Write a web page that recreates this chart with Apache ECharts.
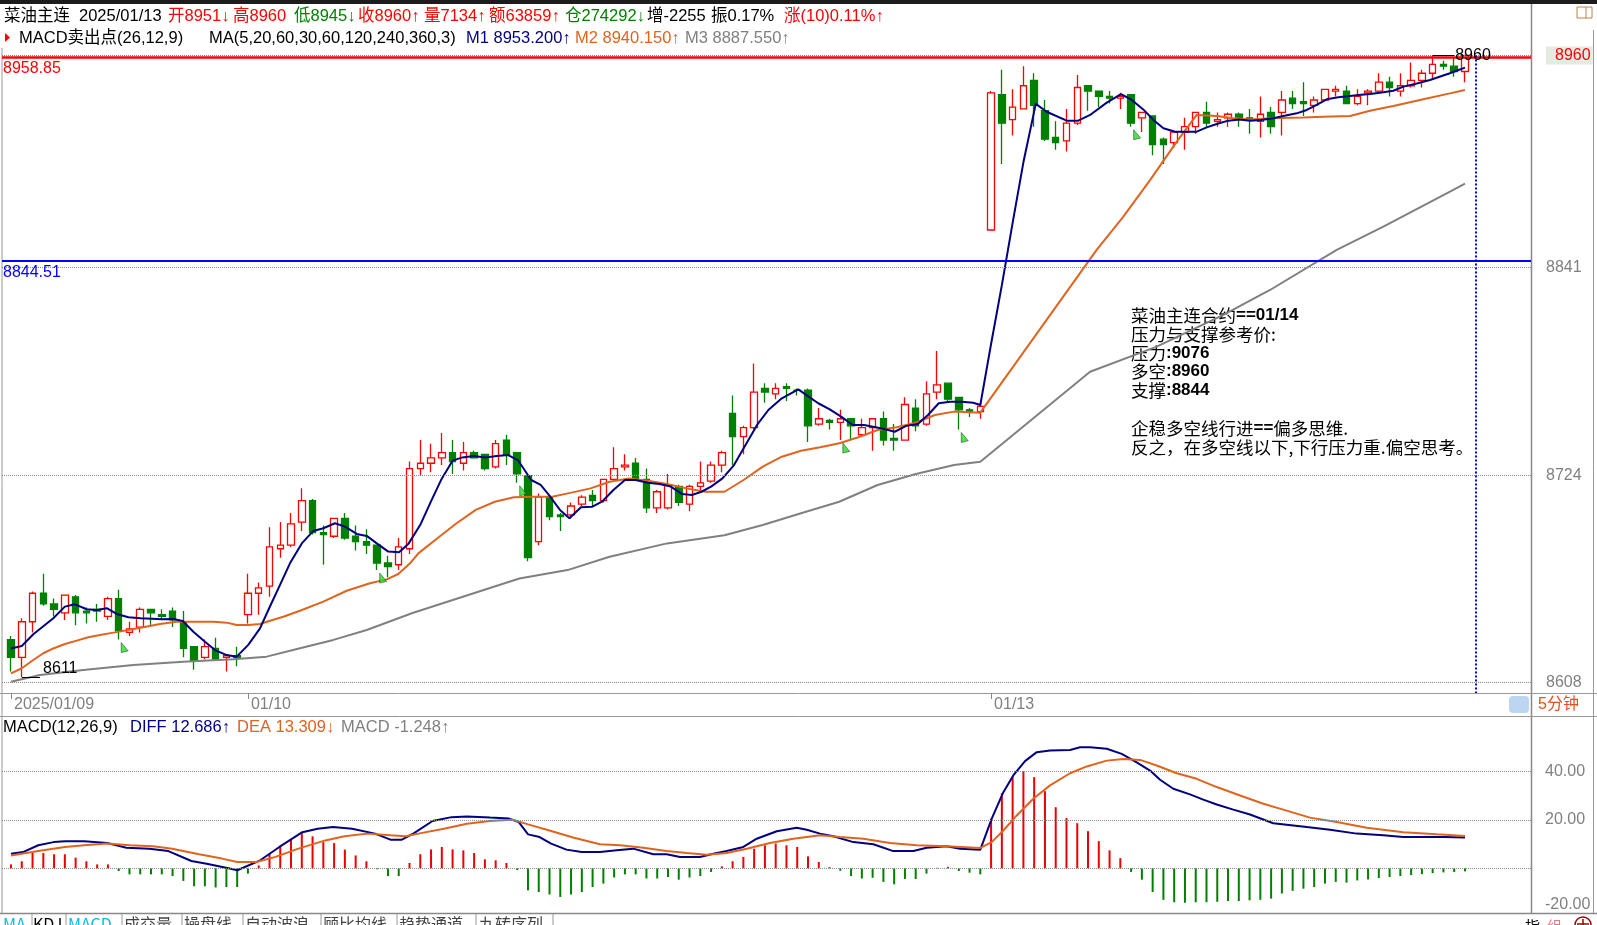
<!DOCTYPE html>
<html><head><meta charset="utf-8">
<script src="https://cdn.jsdelivr.net/npm/echarts@6/dist/echarts.min.js"></script>
<style>html,body{margin:0;padding:0;background:#fff}#c{width:1597px;height:925px}</style>
</head><body><div id="c"></div>
<script>
// ---- data: [open, close, low, high] per 5-minute bar ----
const candles = [
[8632,8622,8614,8634],[8622,8642,8611,8644],[8642,8658,8636,8659],[8658,8652,8651,8669],[8652,8649,8645,8655],
[8647,8657,8643,8657],[8656,8647,8640,8657],[8648,8647,8641,8650],[8649,8648,8642,8652],[8645,8655,8643,8656],
[8655,8637,8632,8660],[8636,8638,8634,8642],[8639,8649,8636,8650],[8649,8647,8640,8649],[8646,8645,8643,8649],
[8648,8643,8639,8650],[8642,8627,8622,8648],[8628,8620,8615,8628],[8622,8628,8621,8632],[8627,8621,8620,8633],
[8622,8623,8614,8623],[8623,8622,8617,8628],[8646,8658,8641,8669],[8658,8661,8646,8664],[8662,8684,8656,8695],
[8683,8685,8678,8698],[8685,8697,8684,8703],[8698,8710,8693,8717],[8710,8692,8691,8711],[8692,8691,8674,8696],
[8690,8700,8689,8700],[8700,8689,8688,8703],[8690,8687,8682,8696],[8687,8685,8680,8694],[8685,8675,8671,8685],
[8675,8673,8667,8679],[8674,8684,8671,8689],[8683,8728,8680,8732],[8728,8731,8724,8744],[8731,8734,8726,8742],
[8734,8737,8730,8748],[8737,8732,8725,8744],[8731,8737,8727,8743],[8737,8734,8734,8738],[8736,8728,8727,8736],
[8729,8742,8728,8744],[8744,8736,8730,8747],[8737,8725,8720,8737],[8724,8678,8676,8724],[8687,8712,8685,8714],
[8712,8701,8699,8712],[8702,8701,8693,8703],[8702,8707,8700,8709],[8708,8712,8707,8713],[8713,8710,8707,8716],
[8710,8722,8709,8722],[8722,8728,8722,8740],[8729,8730,8727,8736],[8731,8722,8721,8734],[8722,8706,8703,8728],
[8706,8715,8703,8716],[8706,8719,8705,8725],[8718,8709,8707,8719],[8708,8718,8704,8719],[8718,8720,8716,8732],
[8721,8730,8720,8732],[8730,8737,8726,8738],[8759,8746,8730,8769],[8746,8751,8736,8752],[8751,8771,8750,8787],
[8773,8771,8765,8776],[8770,8773,8767,8776],[8774,8773,8766,8776],[8772,8772,8769,8773],[8772,8752,8743,8773],
[8753,8756,8752,8762],[8755,8754,8750,8756],[8754,8756,8744,8761],[8756,8752,8744,8756],[8747,8751,8746,8756],
[8751,8756,8738,8756],[8756,8744,8741,8760],[8745,8744,8738,8753],[8744,8764,8744,8768],[8762,8752,8749,8767],
[8753,8770,8752,8777],[8771,8775,8767,8794],[8776,8767,8766,8776],[8768,8761,8750,8768],[8761,8760,8757,8762],
[8760,8763,8756,8765],[8862,8939,8862,8940],[8938,8922,8899,8952],[8924,8931,8915,8941],[8930,8943,8930,8954],
[8946,8932,8920,8950],[8929,8913,8912,8935],[8914,8911,8907,8923],[8912,8922,8906,8930],[8922,8942,8921,8949],
[8943,8940,8929,8943],[8940,8937,8931,8940],[8937,8936,8933,8940],[8936,8937,8930,8939],[8938,8922,8920,8938],
[8925,8928,8917,8928],[8926,8910,8904,8926],[8913,8910,8899,8914],[8911,8917,8908,8917],[8917,8920,8907,8925],
[8920,8928,8916,8928],[8928,8922,8920,8934],[8923,8924,8920,8928],[8925,8927,8920,8928],[8927,8925,8920,8928],
[8925,8924,8916,8930],[8923,8927,8914,8937],[8928,8920,8916,8931],[8928,8935,8915,8940],[8936,8933,8930,8940],
[8934,8933,8926,8945],[8932,8935,8928,8937],[8935,8941,8935,8941],[8940,8941,8937,8943],[8940,8933,8933,8943],
[8933,8937,8932,8941],[8939,8940,8932,8941],[8940,8945,8939,8950],[8945,8942,8937,8948],[8940,8943,8937,8950],
[8943,8946,8942,8956],[8946,8950,8942,8952],[8950,8955,8947,8960],[8955,8954,8952,8957],[8954,8951,8948,8959],
[8951,8960,8945,8960]
];

// moving averages: [bar index, value]
const ma5 = [[0,8627],[1,8628.4],[2.07,8635],[3.93,8644],[5,8650.5],[5.94,8651.8],[7.03,8649],[7.96,8648.6],[8.89,8649.6],[9.81,8646.4],
[10.9,8644.5],[12.05,8644],[13.06,8643.7],[14.05,8643.4],[15.07,8643.6],[15.94,8642.4],[16.93,8636.4],[18.01,8630.8],[18.94,8626.1],[20.03,8623.3],
[20.96,8622.4],[22.03,8629],[23.12,8638.3],[24,8650],[25,8663],[25.9,8674.8],[27,8686],[28.07,8693],[29,8694.5],[30.08,8697.3],
[31.01,8695.4],[32.1,8691.3],[33.03,8690.2],[33.96,8686],[35.03,8681.4],[36.03,8681],[36.93,8686],[37.99,8696.3],[39.06,8710.4],[39.94,8721.7],
[41.01,8732.5],[41.9,8734.3],[42.97,8735.1],[44.03,8734.3],[45.1,8735.1],[46.16,8735.6],[47.06,8732.8],[48.3,8721.6],[49.18,8718.8],[50.07,8712.2],
[50.97,8704.8],[51.85,8700.1],[52.92,8706.3],[53.98,8706.6],[54.87,8709.4],[55.93,8716],[57,8721.6],[57.99,8721.6],[59.14,8720.1],[60.2,8719.4],
[61.26,8717.9],[62.33,8713.7],[63.22,8713.2],[64.11,8715],[65,8717.9],[66.06,8722.5],[67.13,8730],[68.2,8741.3],[69.27,8752.5],[70.32,8760.9],
[71.57,8767.5],[73.1,8772.5],[74.06,8768.4],[74.95,8764.7],[76.02,8761.3],[77.08,8757.2],[78.14,8752.5],[79.21,8752.5],[80.28,8751.2],[81.17,8750.1],
[82.05,8748.7],[83.12,8752],[84.19,8753.1],[85.14,8758.1],[86.14,8764.7],[87.2,8765.6],[88.27,8765.6],[89.34,8765],[90,8763.7],
[91,8798],[92,8831],[93,8866],[94,8900],[95.15,8932.8],[96.16,8928.4],[98.02,8923.4],[99.1,8923.4],[100.19,8926.6],[101.74,8933.5],
[103.06,8938.3],[104.06,8935],[105.13,8929.7],[106.07,8923.8],[107,8919.1],[108.08,8917.2],[109.07,8917.2],[110.09,8917.2],[111.02,8919.6],[111.95,8921.5],
[113.03,8923.4],[114.05,8924.1],[115.04,8923.4],[116.06,8923.8],[117.2,8924.7],[118.13,8926],[119.38,8927.5],[120.31,8929.4],[121.23,8932.2],[122.16,8935.4],
[123.24,8936.5],[124.33,8937.2],[125.1,8937.8],[126.18,8938.4],[127.11,8939.1],[128.35,8940.2],[129.28,8942.5],[130.52,8944.3],[131.75,8946.2],[133.6,8950],[135,8953.2]];
const ma20 = [[0,8613],[1,8615.9],[2.07,8620.5],[3,8624.3],[3.93,8627],[5.01,8629.5],[6.1,8631.4],[7.18,8633.3],[8.26,8634.6],[9.5,8635.9],
[10.89,8637.4],[12.28,8638.9],[13.83,8640.7],[15.39,8642],[16.93,8642],[18.78,8642],[20.03,8641.5],[20.96,8640.2],[22.03,8640.2],[23.12,8640.7],
[24.05,8642.6],[25.28,8644.8],[26.83,8648.2],[29,8653.3],[31.17,8659.4],[33.33,8663.6],[34.88,8665.8],[35.96,8668.8],[37.05,8674.8],[37.82,8680.4],
[39.59,8688.9],[41.37,8697.3],[43.15,8704.8],[44.92,8709.4],[46.7,8711.9],[48.48,8712.2],[50.25,8712.2],[52.03,8714.5],[53.81,8716.9],[55.58,8720.6],
[57.36,8722.5],[59.14,8721.2],[60.91,8719.4],[62.69,8716.9],[64.47,8715],[66.24,8715],[68.02,8721.6],[69.8,8729.1],[71.57,8734.7],[73.35,8738],
[75.13,8740],[76.9,8742.2],[78.68,8745.6],[80.46,8749.7],[82.23,8751.2],[84.01,8753.8],[85.79,8758.1],[87.56,8760],[90,8759.4],
[100.8,8850.8],[103.28,8869.5],[105.76,8890],[108.24,8911.6],[110.09,8926.6],[111.95,8926],[113.49,8924.7],[115.04,8924.1],[116.9,8924.7],[120.01,8925.2],
[121.85,8925.6],[124.33,8926],[126.18,8929],[128.35,8931.6],[131.13,8935.4],[133.6,8938.7],[135,8940.6]];
const ma60 = [[0,8608.3],[2.69,8612.1],[6.71,8614.9],[11.36,8617.7],[16,8619.6],[20.64,8620.9],[23.74,8622.4],[26.83,8627.1],[29.93,8631.8],[33.03,8637.4],
[37.28,8646.9],[47.2,8666.3],[51.67,8671],[55.58,8678.5],[60.91,8686],[66.24,8690.6],[69.8,8696.3],[73.35,8702.9],[76.9,8709.4],[80.46,8718.8],
[84.01,8725],[87.56,8730],[90,8731.9],[100.19,8782.4],[106.38,8796.5],[112.57,8814.3],[116.9,8828.3],[123.09,8850.8],[127.42,8863.9],[133.61,8883.5],[135,8888]];

// MACD histogram per bar
const macdHist = [1.6,2.9,6.3,6.3,5.8,5.8,4.4,2.9,1.6,1.6,
-1.1,-2.5,-2.5,-2.5,-2.5,-3.2,-5.2,-7.4,-7.4,-7.9,
-7.7,-7.7,-2.2,1.2,6.0,8.8,11.8,14.9,13.2,10.8,
10.4,7.7,5.3,2.9,-0.4,-3.2,-3.2,2.2,5.8,7.8,
8.8,7.8,7.4,6.3,3.7,3.3,2.2,-0.7,-9.1,-9.8,
-10.8,-11.8,-10.8,-9.8,-7.7,-6.3,-3.8,-2.5,-2.5,-4.2,
-4.2,-3.6,-4.7,-3.8,-3.2,-1.5,0.8,2.9,4.7,8.1,
9.5,10.2,9.5,8.8,4.9,2.6,0.5,-1.0,-3.2,-4.2,
-3.9,-5.6,-6.6,-4.4,-4.4,-2.2,0.2,0.6,-1.1,-1.8,
-2.5,20.5,31.0,37.6,40.0,37.6,31.8,25.2,20.7,18.6,
15.3,11.2,7.4,4.2,-1.5,-4.7,-9.8,-13.0,-14.0,-14.2,
-14.0,-14.0,-13.8,-13.5,-13.5,-13.2,-13.0,-12.5,-10.4,-9.3,
-8.4,-7.7,-6.3,-5.6,-5.9,-5.0,-4.6,-4.0,-3.6,-3.2,
-2.8,-2.4,-2.0,-1.7,-1.5,-1.25];
const diff = [[0,6.0],[1.11,6.7],[2.53,9.5],[3.96,10.8],[5.01,11.2],[6.8,11.2],[8.93,10.4],[10.71,8.5],[12.84,8.1],[14.61,7.1],
[16.75,3.0],[18.17,1.9],[20.3,-0.1],[21.01,-0.8],[23.14,3.3],[24.92,8.8],[27.05,14.9],[28.47,16.3],[29.9,17],[31.67,16.3],
[33.8,14.3],[35.23,11.8],[36.29,11.8],[37.35,14.3],[39.14,19.5],[40.91,21.1],[42.33,21.4],[44.47,20.9],[46.24,20.5],[47.13,19.1],
[48.01,14],[49.08,12.9],[50.15,10.2],[51.57,7.7],[52.99,6.7],[54.69,6.7],[56.24,7.4],[57.78,8.1],[59.64,5.8],[60.88,5.8],
[62.12,4.7],[63.97,4.7],[65.21,6.0],[66.45,7.1],[68,8.8],[69.24,12.2],[71.1,15.3],[72.95,16.7],[73.88,15.9],[75.12,14.3],
[76.35,13.2],[78.21,10.8],[80.07,9.9],[81.92,7.1],[83.78,7.1],[85.02,8.5],[86.88,9.1],[88.12,8.1],[90,7.7],[91.06,20.5],
[92.14,31.4],[93.06,38.3],[94.15,44.2],[95.24,47.9],[96.47,48.6],[98.33,48.8],[99.26,49.9],[100.19,49.9],[101.74,49.3],[103.13,47.2],
[104.52,43.7],[105.76,40.3],[106.69,36.5],[107.92,32.8],[109.47,30.5],[110.7,28.3],[111.95,26.3],[113.49,24.2],[115.04,22.2],[117.2,18.6],
[120.31,17.0],[122.47,15.9],[124.95,14.3],[127.42,13.6],[129.28,12.9],[133.04,12.9],[135,12.686]];
const dea = [[0,5.3],[2.53,7.1],[5.01,8.8],[6.8,9.5],[8.93,10.2],[11.05,9.5],[13.18,9.1],[14.97,8.1],[17.46,5.8],[19.59,4.0],
[21.01,2.6],[22.79,2.6],[24.56,4.7],[26.69,8.1],[29.18,11.5],[30.96,13.2],[33.09,14.3],[35.23,13.6],[36.65,13.2],[38.07,14.5],
[40.19,16.3],[42.33,18.4],[44.47,19.5],[46.59,20.0],[48.01,18.1],[50.15,15.4],[52.27,12.6],[54.69,9.9],[56.55,9.5],[58.71,8.5],
[60.88,7.1],[62.74,6.3],[64.6,5.6],[66.45,6.3],[68.31,8.1],[70.47,10.4],[72.64,12.2],[75.12,13.6],[76.97,12.9],[79.14,12.2],
[81.62,10.4],[84.09,9.5],[86.88,9.1],[90,8.4],[91.06,10.8],[92.14,15.6],[93.38,21.8],[94.92,28.7],[96.47,34.2],[98.33,39.2],
[99.88,42],[101.74,44.4],[103.28,45.1],[104.83,44.7],[106.38,42.4],[108.24,39.2],[110.09,36.9],[111.95,33.5],[114.12,30],[116.28,26.6],
[118.13,24.2],[120.61,20.9],[123.09,19.1],[125.88,16.7],[129.28,14.9],[132.38,14.0],[135,13.309]];

const sellSignals = [10, 34, 47, 77, 88, 104];      // MACD卖出点 markers (bar index)
const dateTicks = [0, 22, 91];
const dateLabels = ['2025/01/09', '01/10', '01/13'];
const priceTicks = [8608, 8724, 8841, 8960];
const macdTicks = [20, 40];
const resistLine = 8958.85, supportLine = 8844.51;
const lowMark = {i: 1, v: 8611}, highMark = {i: 132, v: 8960};
const cursorBar = 136;

// ---- chart ----
const NUM = "'Liberation Sans','Noto Sans CJK SC',sans-serif";
const CJK = "'Noto Sans CJK SC','Liberation Sans',sans-serif";
const RED = '#ff0000', GREEN = '#008000', NAVY = '#000080', ORANGE = '#e0641e', GRAY = '#808080';

const chart = echarts.init(document.getElementById('c'), null, {renderer: 'canvas'});
const xMin = -0.8357, xMax = 141.13;

function txt(x, y, text, color, size, extra) {
  return Object.assign({type: 'text', x: x, y: y, silent: true,
    style: Object.assign({text: text, fill: color, font: (size || 16.5) + 'px ' + NUM, verticalAlign: 'middle'}, extra || {})});
}
function ln(x1, y1, x2, y2, c, w) {
  return {type: 'line', silent: true, shape: {x1, y1, x2, y2}, style: {stroke: c || '#999', lineWidth: w || 1}};
}

const graphics = [
  {type: 'rect', shape: {x: 0, y: 0, width: 1597, height: 4}, style: {fill: '#1c1c1c'}, silent: true},
  txt(4, 16, '菜油主连', '#000'), txt(79, 16, '2025/01/13', '#000'),
  txt(168, 16, '开8951↓', RED), txt(233, 16, '高8960', RED), txt(294, 16, '低8945↓', GREEN),
  txt(358, 16, '收8960↑', RED), txt(424, 16, '量7134↑', RED), txt(489, 16, '额63859↑', RED),
  txt(565, 16, '仓274292↓', GREEN), txt(647, 16, '增-2255', '#000'), txt(711, 16, '振0.17%', '#000'),
  txt(784, 16, '涨(10)0.11%↑', RED),
  {type: 'polygon', shape: {points: [[5, 33], [10, 37.5], [5, 42]]}, style: {fill: RED}, silent: true},
  txt(19, 38, 'MACD卖出点(26,12,9)', '#000'), txt(209, 38, 'MA(5,20,60,30,60,120,240,360,3)', '#000'),
  txt(466, 38, 'M1 8953.200↑', NAVY), txt(575, 38, 'M2 8940.150↑', ORANGE), txt(685, 38, 'M3 8887.550↑', GRAY),
  txt(3, 727, 'MACD(12,26,9)', '#000'), txt(130, 727, 'DIFF 12.686↑', NAVY),
  txt(237, 727, 'DEA 13.309↓', ORANGE), txt(341, 727, 'MACD -1.248↑', GRAY),
  // frames
  ln(2, 48, 2, 913, '#999'), ln(1531.5, 4, 1531.5, 913, '#888', 1.5), ln(1593.5, 30, 1593.5, 913, '#999'),
  ln(0, 693.5, 1597, 693.5, '#999'), ln(0, 716.5, 1597, 716.5, '#999'), ln(0, 913.5, 1597, 913.5, '#888', 1.5),
  {type: 'rect', shape: {x: 1577, y: 7, width: 15, height: 11}, style: {fill: 'none', stroke: '#c08040'}, silent: true},
  ln(1586, 7, 1586, 18, '#c08040'),
  {type: 'rect', shape: {x: 1509, y: 696, width: 20, height: 17, r: 4}, style: {fill: '#bcd6f2'}, silent: true},
  txt(1538, 705, '5分钟', '#e2501e', 16),
  txt(1545, 905, '-20.00', GRAY, 16),
  // annotation
  {type: 'text', x: 1131, y: 306, silent: true, style: {
    text: ['{c|菜油主连合约}{b|==01/14}', '{c|压力与支撑参考价:}', '{c|压力}{b|:9076}', '{c|多空}{b|:8960}',
           '{c|支撑}{b|:8844}', ' ', '{c|企稳多空线行进}{b|==}{c|偏多思维.}', '{c|反之，在多空线以下,下行压力重.偏空思考。}'].join('\n'),
    fill: '#000', font: '17px ' + CJK, lineHeight: 18.8,
    rich: {c: {font: '17.5px ' + CJK, fill: '#000', lineHeight: 18.8},
           b: {font: 'bold 17px ' + NUM, fill: '#000', lineHeight: 18.8}}}},
];
// bottom tabs
const tabs = [['MA', 3, '#10b8e8'], ['KDJ', 33, '#000'], ['MACD', 68, '#10b8e8'], ['成交量', 124, '#444'], ['操盘线', 184, '#444'],
  ['自动波浪', 245, '#444'], ['顾比均线', 323, '#444'], ['趋势通道', 399, '#444'], ['九转序列', 479, '#444']];
const seps = [32, 66, 122, 182, 243, 321, 397, 476, 553];
tabs.forEach(t => graphics.push(txt(t[1], 916, t[0], t[2], 16, {verticalAlign: 'top', font: '16px ' + CJK})));
seps.forEach(s => graphics.push(ln(s, 914, s, 925, '#999')));
graphics.push(txt(1525, 919, '指', '#000', 15, {verticalAlign: 'top', font: '15px ' + CJK}));
graphics.push(txt(1547, 919, '组', '#e07585', 15, {verticalAlign: 'top', font: '15px ' + CJK}));
graphics.push({type: 'circle', shape: {cx: 1583, cy: 925, r: 8}, style: {fill: 'none', stroke: '#a00000', lineWidth: 1.5}, silent: true});
graphics.push(ln(1583, 919, 1583, 925, '#a00000', 1.5), ln(1577, 924, 1589, 924, '#a00000', 1.5));

const dotted = {type: 'dotted', color: '#8a8a8a', width: 1};

const option = {
  animation: false,
  backgroundColor: '#fff',
  grid: [
    {left: 2, top: 48, width: 1529, height: 645},
    {left: 2, top: 716, width: 1529, height: 197}
  ],
  xAxis: [
    {type: 'value', gridIndex: 0, min: xMin, max: xMax, splitLine: {show: false},
     axisLine: {show: false},
     axisTick: {show: true, customValues: dateTicks, length: 6, lineStyle: {color: '#888'}},
     axisLabel: {customValues: dateTicks, formatter: v => dateLabels[dateTicks.indexOf(v)] || '',
       align: 'left', margin: 4, padding: [0, 0, 0, 3], color: GRAY, fontSize: 16, fontFamily: NUM}},
    {type: 'value', gridIndex: 1, min: xMin, max: xMax, show: false}
  ],
  yAxis: [
    {type: 'value', gridIndex: 0, position: 'right', min: 8601.99, max: 8964.19,
     splitLine: {show: false}, axisLine: {show: false}, axisTick: {show: false},
     axisLabel: {customValues: priceTicks, margin: 15, align: 'left', color: GRAY, fontSize: 16, fontFamily: NUM,
       formatter: v => v === 8960 ? '{hi|8960}' : String(v),
       rich: {hi: {color: RED, fontSize: 16, fontFamily: NUM, backgroundColor: '#e3ebe3', padding: [1, 2, 1, 9]}}}},
    {type: 'value', gridIndex: 1, position: 'right', min: -18.43, max: 62.8,
     splitLine: {show: false}, axisLine: {show: false}, axisTick: {show: false},
     axisLabel: {customValues: macdTicks, margin: 14, align: 'left', color: GRAY, fontSize: 16, fontFamily: NUM,
       formatter: v => v.toFixed(2)}}
  ],
  graphic: {elements: graphics},
  series: [
    {type: 'candlestick', xAxisIndex: 0, yAxisIndex: 0, z: 2,
     data: candles.map((c, i) => [i, c[0], c[1], c[2], c[3]]),
     encode: {x: 0, y: [1, 2, 3, 4]},
     barWidth: 7,
     itemStyle: {color: '#ffffff', color0: GREEN, borderColor: RED, borderColor0: GREEN, borderWidth: 1.3},
     markLine: {silent: true, symbol: 'none', animation: false,
       data: [
         ...priceTicks.map(v => ({yAxis: v, lineStyle: dotted, label: {show: false}})),
         {yAxis: resistLine, lineStyle: {color: RED, width: 2.5, type: 'solid'},
          label: {show: true, position: 'insideStartBottom', formatter: '8958.85', color: RED, fontSize: 16, fontFamily: NUM, distance: [1, 3]}},
         {yAxis: supportLine, lineStyle: {color: '#0000ff', width: 2, type: 'solid'},
          label: {show: true, position: 'insideStartBottom', formatter: '8844.51', color: '#0000ff', fontSize: 16, fontFamily: NUM, distance: [1, 3]}},
         [{coord: [cursorBar, 8960], lineStyle: {color: '#0000dd', width: 2, type: 'dotted'}, label: {show: false}},
          {coord: [cursorBar, 8602]}],
         [{coord: [highMark.i, highMark.v], lineStyle: {color: '#000', width: 1, type: 'solid'},
           label: {show: true, position: 'end', formatter: String(highMark.v), color: '#000', fontSize: 16, fontFamily: NUM, distance: 1}},
          {coord: [highMark.i + 2, highMark.v]}],
         [{coord: [lowMark.i, lowMark.v], lineStyle: {color: '#000', width: 1, type: 'solid'},
           label: {show: true, position: 'end', formatter: String(lowMark.v), color: '#000', fontSize: 16, fontFamily: NUM, distance: 3, verticalAlign: 'bottom'}},
          {coord: [lowMark.i + 1.7, lowMark.v]}]
       ]}},
    {type: 'line', xAxisIndex: 0, yAxisIndex: 0, z: 3, data: ma60, symbol: 'none', lineStyle: {color: GRAY, width: 2}},
    {type: 'line', xAxisIndex: 0, yAxisIndex: 0, z: 3, data: ma20, symbol: 'none', lineStyle: {color: ORANGE, width: 2}},
    {type: 'line', xAxisIndex: 0, yAxisIndex: 0, z: 4, data: ma5, symbol: 'none', lineStyle: {color: NAVY, width: 2}},
    {type: 'scatter', xAxisIndex: 0, yAxisIndex: 0, z: 5,
     data: sellSignals.map(i => [i, candles[i][2]]),
     symbol: 'path://M0,0 L0,12 L9,10 Z', symbolSize: [7, 10], symbolOffset: [6, 8],
     itemStyle: {color: '#22e022', borderColor: '#000', borderWidth: 0.5}},
    {type: 'bar', xAxisIndex: 1, yAxisIndex: 1, z: 2, barWidth: 2,
     data: macdHist.map((v, i) => [i, v]),
     itemStyle: {color: p => p.value[1] >= 0 ? '#ee0000' : GREEN},
     markLine: {silent: true, symbol: 'none', animation: false,
       data: [0, 20, 40].map(v => ({yAxis: v, lineStyle: dotted, label: {show: false}}))}},
    {type: 'line', xAxisIndex: 1, yAxisIndex: 1, z: 3, data: diff, symbol: 'none', lineStyle: {color: NAVY, width: 2}},
    {type: 'line', xAxisIndex: 1, yAxisIndex: 1, z: 3, data: dea, symbol: 'none', lineStyle: {color: ORANGE, width: 2}}
  ]
};
chart.setOption(option);
</script>
</body></html>
